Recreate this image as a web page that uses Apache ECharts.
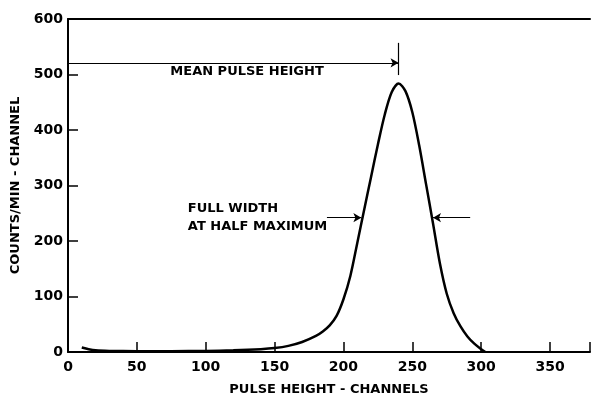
<!DOCTYPE html>
<html><head><meta charset="utf-8">
<script src="https://cdn.jsdelivr.net/npm/echarts@6/dist/echarts.min.js"></script>
<style>html,body{margin:0;padding:0;background:#fff}#c{width:593px;height:401px}</style>
</head><body><div id="c"></div>
<script>
const xTicks = [0, 50, 100, 150, 200, 250, 300, 350];
const yTicks = [0, 100, 200, 300, 400, 500, 600];
const channels = [10, 15, 20, 30, 50, 75, 100, 120, 140, 150, 160, 170, 180, 185, 190, 195, 200, 205, 210, 215, 220, 225, 230, 235, 240, 245, 250, 255, 260, 265, 270, 275, 280, 285, 290, 295, 300, 303];
const counts   = [8, 5, 3, 2, 1.5, 1.5, 2, 3, 5, 7, 11, 18, 29, 37, 48, 65, 95, 137, 196, 256, 315, 374, 428, 468, 484, 470, 432, 372, 302, 232, 160, 105, 70, 46, 28, 15, 5, 0];
const meanPulse = 240, meanLineY = 521, halfMax = 242;
const fwhmLeft = [188, 213], fwhmRight = [292, 265];

const data = channels.map((c, i) => [c, counts[i]]);
const font = 'DejaVu Sans';
const chart = echarts.init(document.getElementById('c'));
const lbl = (text, align) => ({ show: true, formatter: text, color: '#000', fontFamily: font, fontSize: 13, fontWeight: 'bold', position: 'inside', align: align, verticalAlign: 'middle' });
chart.setOption({
  animation: false,
  grid: { left: 68, right: 0, top: 19, bottom: 48 },
  xAxis: [{
    type: 'value', min: 0, max: 379, interval: 50,
    axisLine: { lineStyle: { color: '#000', width: 2 } },
    axisTick: { inside: true, length: 10, lineStyle: { color: '#000', width: 1.5 } },
    axisLabel: { color: '#000', fontFamily: font, fontSize: 14, fontWeight: 'bold', margin: 8,
      formatter: v => xTicks.includes(v) ? String(v) : '' },
    splitLine: { show: false },
    name: 'PULSE HEIGHT - CHANNELS', nameLocation: 'middle', nameGap: 31,
    nameTextStyle: { color: '#000', fontFamily: font, fontSize: 13, fontWeight: 'bold' }
  }, {
    type: 'value', position: 'top', min: 0, max: 379,
    axisLine: { show: true, onZero: false, lineStyle: { color: '#000', width: 2 } },
    axisTick: { show: false }, axisLabel: { show: false }, splitLine: { show: false }
  }],
  yAxis: {
    type: 'value', min: 0, max: 600, interval: 100,
    axisLine: { show: true, lineStyle: { color: '#000', width: 2 } },
    axisTick: { show: true, inside: true, length: 10, lineStyle: { color: '#000', width: 1.5 } },
    axisLabel: { color: '#000', fontFamily: font, fontSize: 14, fontWeight: 'bold', margin: 5,
      formatter: v => yTicks.includes(v) ? String(v) : '' },
    splitLine: { show: false },
    name: 'COUNTS/MIN - CHANNEL', nameLocation: 'middle', nameGap: 46,
    nameTextStyle: { color: '#000', fontFamily: font, fontSize: 13, fontWeight: 'bold' }
  },
  series: [{
    type: 'line', data: data, smooth: 0.3, showSymbol: false,
    lineStyle: { color: '#000', width: 2.5 },
    markLine: {
      silent: true, symbol: ['none', 'arrow'], symbolSize: [7, 8],
      label: { show: false },
      lineStyle: { color: '#000', width: 1.2, type: 'solid' },
      data: [
        [{ coord: [0, meanLineY] }, { coord: [meanPulse, meanLineY] }],
        [{ coord: [fwhmLeft[0], halfMax] }, { coord: [fwhmLeft[1], halfMax] }],
        [{ coord: [fwhmRight[0], halfMax] }, { coord: [fwhmRight[1], halfMax] }],
        [{ coord: [meanPulse, 557], symbol: 'none' }, { coord: [meanPulse, 499], symbol: 'none' }]
      ]
    },
    markPoint: {
      silent: true, symbol: 'circle', symbolSize: 0,
      data: [
        { coord: [130, 505], label: lbl('MEAN PULSE HEIGHT', 'center') },
        { coord: [87, 259], label: lbl('FULL WIDTH', 'left') },
        { coord: [87, 226], label: lbl('AT HALF MAXIMUM', 'left') }
      ]
    }
  }]
});
</script></body></html>
